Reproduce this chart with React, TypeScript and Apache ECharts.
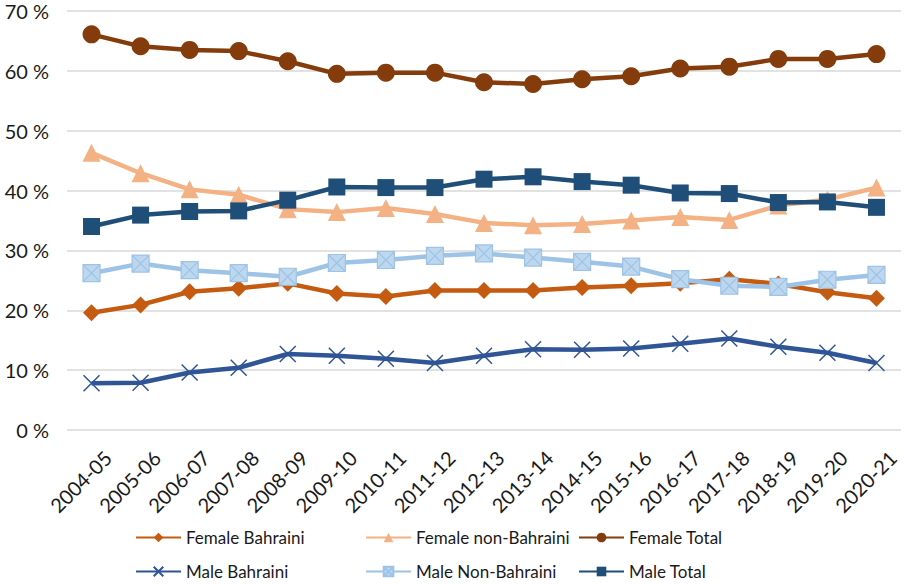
import React, { useEffect, useRef } from "react";
import * as echarts from "echarts";

const categories = ["2004-05","2005-06","2006-07","2007-08","2008-09","2009-10","2010-11","2011-12","2012-13","2013-14","2014-15","2015-16","2016-17","2017-18","2018-19","2019-20","2020-21"];
const femaleBahraini = [19.6,20.9,23.1,23.7,24.5,22.8,22.3,23.3,23.3,23.3,23.8,24.1,24.5,25.2,24.4,23.0,22.0];
const femaleNonBahraini = [46.3,42.9,40.2,39.3,36.9,36.4,37.1,36.1,34.6,34.2,34.4,35.0,35.6,35.1,37.5,38.5,40.5];
const femaleTotal = [66.1,64.1,63.5,63.3,61.6,59.5,59.7,59.7,58.1,57.8,58.6,59.1,60.4,60.7,62.0,62.0,62.8];
const maleBahraini = [7.8,7.9,9.6,10.4,12.7,12.4,11.9,11.2,12.4,13.5,13.4,13.6,14.4,15.3,13.9,12.9,11.2];
const maleNonBahraini = [26.2,27.8,26.7,26.2,25.6,27.9,28.4,29.1,29.5,28.8,28.1,27.3,25.2,24.1,23.9,25.1,25.9];
const maleTotal = [34.0,35.9,36.5,36.6,38.4,40.6,40.5,40.5,41.9,42.3,41.5,40.9,39.6,39.5,38.0,38.1,37.2];
const yTicks = [0, 10, 20, 30, 40, 50, 60, 70];

const FONT = "Lato, 'Noto Sans', sans-serif";
const X_PATH = "path://M0,0 L10,10 M10,0 L0,10";
const BOXX_PATH = "path://M0,0 L10,0 L10,10 L0,10 Z M0,0 L10,10 M10,0 L0,10";

export default function App() {
  const ref = useRef<HTMLDivElement>(null);
  useEffect(() => {
    if (!ref.current) return;
    const chart = echarts.init(ref.current, null, { renderer: "svg" });
    const mk = (name: string, data: number[], color: string, symbol: string, size: number, itemStyle: any = {}) => ({
      name,
      type: "line",
      data,
      symbol,
      symbolSize: size,
      showSymbol: true,
      color,
      lineStyle: { color, width: 4.5 },
      itemStyle: { color, ...itemStyle },
    });
    const series = [
      mk("Female Bahraini", femaleBahraini, "#C55A11", "diamond", 17),
      mk("Female non-Bahraini", femaleNonBahraini, "#F4B183", "triangle", 18),
      mk("Female Total", femaleTotal, "#843C0C", "circle", 18),
      mk("Male Bahraini", maleBahraini, "#2F5597", X_PATH, 16, { borderColor: "#2F5597", borderWidth: 1.5 }),
      mk("Male Non-Bahraini", maleNonBahraini, "#9DC3E6", BOXX_PATH, 17, { color: "#BDD7EE", borderColor: "#9DC3E6", borderWidth: 1.2 }),
      mk("Male Total", maleTotal, "#1F4E79", "rect", 17),
    ];
    const legendPos = [
      { name: "Female Bahraini", left: 135, top: 529 },
      { name: "Female non-Bahraini", left: 365, top: 529 },
      { name: "Female Total", left: 578, top: 529 },
      { name: "Male Bahraini", left: 135, top: 563 },
      { name: "Male Non-Bahraini", left: 365, top: 563 },
      { name: "Male Total", left: 578, top: 563 },
    ];
    chart.setOption({
      animation: false,
      backgroundColor: "#ffffff",
      grid: { left: 67, right: 3, top: 11, bottom: 155, containLabel: false },
      legend: legendPos.map((l) => ({
        data: [l.name],
        left: l.left,
        top: l.top,
        itemWidth: 45,
        itemHeight: 12,
        padding: 0,
        textStyle: { fontFamily: FONT, fontSize: 17, color: "#1a1a1a" },
        selectedMode: false,
      })),
      xAxis: {
        type: "category",
        data: categories,
        boundaryGap: true,
        axisLine: { show: false },
        axisTick: { show: false },
        axisLabel: {
          interval: 0, rotate: 45, fontFamily: FONT, fontSize: 20, color: "#1a1a1a",
          margin: 8, verticalAlign: "top", padding: [13, 0, 0, 0],
        },
      },
      yAxis: {
        type: "value",
        min: yTicks[0],
        max: yTicks[yTicks.length - 1],
        interval: 10,
        axisLine: { show: false },
        axisTick: { show: false },
        splitLine: { lineStyle: { color: "#D9D9D9", width: 1.5 } },
        axisLabel: { fontFamily: FONT, fontSize: 20, color: "#1a1a1a", margin: 18, formatter: (v: number) => `${v} %` },
      },
      series,
    });
    return () => chart.dispose();
  }, []);
  return <div ref={ref} style={{ width: 904, height: 585, position: "absolute", left: 0, top: 0 }} />;
}
